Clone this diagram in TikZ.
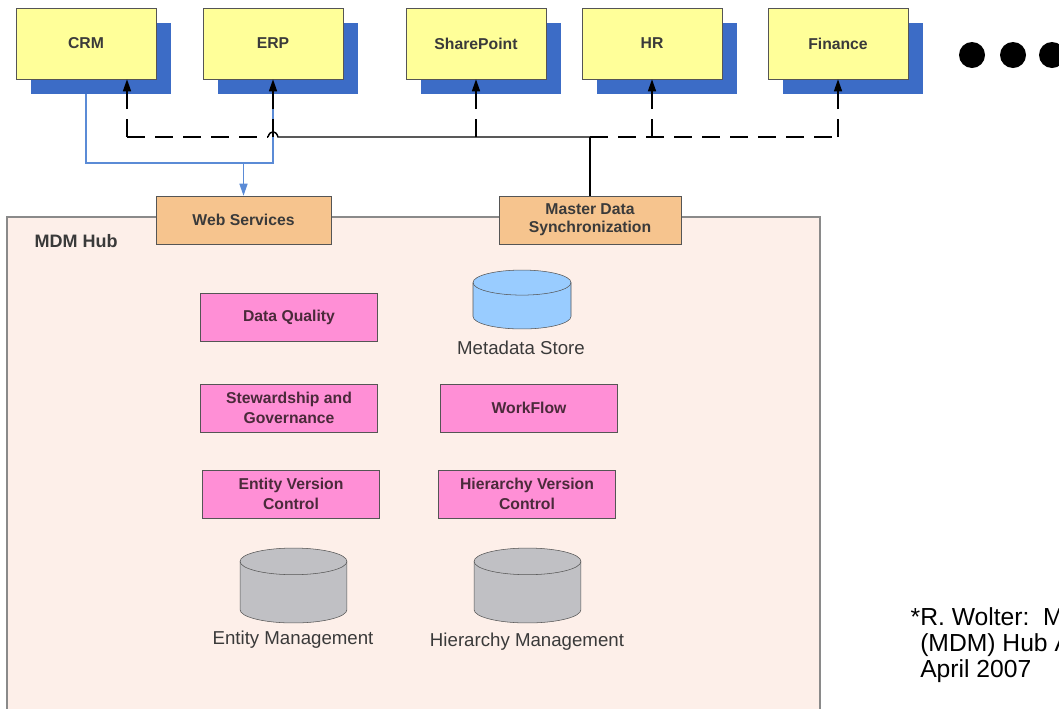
\documentclass[tikz,border=0pt]{standalone}
\usepackage{fontspec}
\setmainfont{Liberation Sans}
\usepackage{xcolor}
\usepackage{tikz}
\usetikzlibrary{arrows.meta}
\usetikzlibrary{shadows}
\usetikzlibrary{calc}

\definecolor{appyellow}{HTML}{FFFF99}
\definecolor{shadowblue}{HTML}{3C6CC6}
\definecolor{portorange}{HTML}{F6C48E}
\definecolor{hubfill}{HTML}{FDEFE9}
\definecolor{hubline}{HTML}{8A8A8A}
\definecolor{svcpink}{HTML}{FF8FD6}
\definecolor{metablue}{HTML}{99CCFF}
\definecolor{storegray}{HTML}{C0C0C4}
\definecolor{wsblue}{HTML}{5B8BD6}
\definecolor{boxline}{HTML}{555555}
\definecolor{boxtext}{HTML}{3A3A3A}
\definecolor{pinktext}{HTML}{4A2A3A}

% database drum: centre, half width, half height, depth of the ellipse (pt), fill
\newcommand{\dbstore}[5]{%
    \begin{scope}[shift={(#1)}, x=1pt, y=1pt]
        \filldraw[fill=#5, draw=boxline] (-#2,#3-#4) -- (-#2,-#3+#4)
            arc[start angle=180, end angle=360, x radius=#2, y radius=#4] -- (#2,#3-#4)
            arc[start angle=0, end angle=180, x radius=#2, y radius=#4] -- cycle;
        \draw[boxline] (-#2,#3-#4) arc[start angle=180, end angle=360, x radius=#2, y radius=#4];
    \end{scope}}

\begin{document}
\begin{tikzpicture}[x=0.75pt, y=-0.75pt,
    appbox/.style={draw=boxline, fill=appyellow, minimum width=105pt, minimum height=53.25pt,
        font=\fontsize{11.8}{13}\selectfont\bfseries, text=boxtext,
        drop shadow={shadow xshift=11.25pt, shadow yshift=-11.25pt, fill=shadowblue, opacity=1}},
    portbox/.style={draw=boxline, fill=portorange, minimum height=36pt, align=center,
        font=\fontsize{11.8}{13.5}\selectfont\bfseries, text=boxtext},
    svcbox/.style={draw=boxline, fill=svcpink, minimum width=132.75pt, minimum height=36pt, align=center,
        font=\fontsize{11.8}{14.5}\selectfont\bfseries, text=pinktext},
    dblabel/.style={font=\fontsize{14}{16}\selectfont, text=boxtext},
    wslink/.style={draw=wsblue, line width=1pt},
    syncline/.style={draw=black, line width=1.1pt},
    syncdash/.style={syncline, dash pattern=on 13.5pt off 7.5pt},
    tip/.style={-{Triangle[length=9pt,width=6pt]}}]

    \useasboundingbox (0,0) rectangle (1059,708);

    % the hub
    \filldraw[fill=hubfill, draw=hubline, line width=1.1pt] (7,217) rectangle (820,740);
    \node[anchor=west, font=\fontsize{13.5}{15}\selectfont\bfseries, text=boxtext] (hublabel) at (30,241) {MDM Hub};

    % the two ports of the hub
    \node[portbox, minimum width=131.25pt] (WS) at (243.5,220) {Web Services};
    \node[portbox, minimum width=136.5pt] (MDS) at (590,220) {Master Data\\Synchronization};

    % services inside the hub
    \node[svcbox] (DQ) at (289,317.5) {Data Quality};
    \node[svcbox] (SG) at (289,408) {Stewardship and\\Governance};
    \node[svcbox] (WF) at (529,408) {WorkFlow};
    \node[svcbox] (EVC) at (291,494) {Entity Version\\Control};
    \node[svcbox] (HVC) at (527,494) {Hierarchy Version\\Control};

    % stores
    \dbstore{522,299.5}{36.75}{22.1}{9.4}{metablue}
    \node[dblabel] (MSlabel) at (521,348) {Metadata Store};
    \dbstore{293.5,585.5}{40.1}{28.1}{10}{storegray}
    \node[dblabel] (EMlabel) at (293,640) {Entity Management};
    \dbstore{527.5,585.5}{40.1}{28.1}{10}{storegray}
    \node[dblabel] (HMlabel) at (527,642) {Hierarchy Management};

    % source systems
    \node[appbox] (CRM) at (86,43.5) {CRM};
    \node[appbox] (ERP) at (273,43.5) {ERP};
    \node[appbox] (SP) at (476,43.5) {SharePoint};
    \node[appbox] (HR) at (652,43.5) {HR};
    \node[appbox] (FIN) at (838,43.5) {Finance};
    \foreach \x in {972,1013,1052}
        \fill (\x,55) circle [radius=9.75pt];

    % web services bus
    \coordinate (wsbus) at (0,163);
    \draw[wslink] ([yshift=-11.25pt]CRM.south) -- (CRM.south |- wsbus) -- (ERP.south |- wsbus) -- ([yshift=-11.25pt]ERP.south);
    \draw[wslink, tip, wsblue] (WS.north |- wsbus) -- (WS.north);

    % synchronization bus
    \coordinate (sync) at (0,137);
    \coordinate (crmport) at ($(CRM.south)+(41,0)$);
    \draw[syncline] (MDS.north) -- (MDS.north |- sync);
    \draw[syncdash] (crmport |- sync) -- ($(ERP.south |- sync)+(-5,0)$);
    \draw[syncline] ($(ERP.south |- sync)+(-5,0)$) .. controls +(2,-7) and +(-2,-7) .. ($(ERP.south |- sync)+(5,0)$) -- (MDS.north |- sync);
    \draw[syncdash] (MDS.north |- sync) -- (FIN.south |- sync);
    \draw[syncdash, tip] (crmport |- sync) -- (crmport);
    \foreach \n in {ERP,SP,HR,FIN}
        \draw[syncdash, tip] (\n.south |- sync) -- (\n.south);

    % reference
    \node[anchor=north west, inner sep=0pt, align=left, font=\fontsize{18.5}{19.5}\selectfont] (ref) at (920,607)
        {\llap{*}R. Wolter:~~Master Data Management\\(MDM) Hub Architecture,\\April 2007};
\end{tikzpicture}
\end{document}
